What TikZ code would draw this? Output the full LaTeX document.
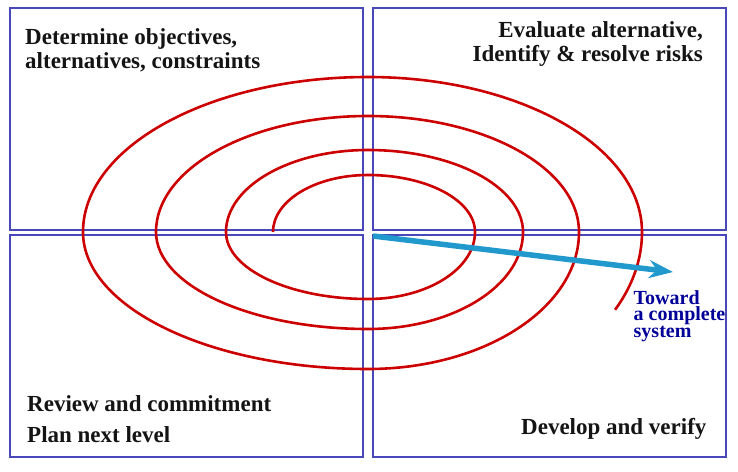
\documentclass[tikz,border=0pt]{standalone}
\usepackage{fontspec}
\setmainfont{Liberation Serif}
\usetikzlibrary{arrows.meta}
\definecolor{boxblue}{RGB}{72,72,184}
\definecolor{spiralred}{RGB}{204,0,0}
\definecolor{arrowblue}{RGB}{33,153,204}
\definecolor{textblue}{RGB}{0,0,153}
\definecolor{textblack}{RGB}{20,20,20}
\begin{document}
\begin{tikzpicture}[x=1pt,y=1pt,
  quad/.style={draw=boxblue,line width=1.2pt,rectangle,inner sep=0pt,outer sep=0pt,
    minimum width=353pt,minimum height=222pt,anchor=north west},
  quadtext/.style={font=\fontsize{23}{24}\bfseries\selectfont,text=textblack,inner sep=0pt},
  spiral/.style={draw=spiralred,line width=2.6pt},
  progress/.style={draw=arrowblue,line width=5.5pt,-{Stealth[length=24pt,width=18pt,inset=8pt]}},
  towardtext/.style={font=\fontsize{20}{16.5}\bfseries\selectfont,text=textblue,inner sep=0pt,align=left}
]
\useasboundingbox (0,0) rectangle (738,-471);
% quadrants
\node[quad] (tl) at (10,-8) {};
\node[quad] (tr) at (373,-8) {};
\node[quad] (bl) at (10,-235) {};
\node[quad] (br) at (373,-235) {};
% labels (base anchor = baseline of the last line)
\node[quadtext,anchor=base west,align=left] (obj) at (25,-68.3) {Determine objectives,\\alternatives, constraints};
\node[quadtext,anchor=base east,align=right] (eval) at (703,-61.5) {Evaluate alternative,\\Identify \& resolve risks};
\node[quadtext,anchor=base west,align=left,font=\fontsize{23}{30.5}\bfseries\selectfont] (rev) at (27,-442.3) {Review and commitment\\Plan next level};
\node[quadtext,anchor=base west] (dev) at (521,-434) {Develop and verify};
% spiral
\draw[spiral] (273,-232)
  arc[start angle=180,end angle=90,x radius=95,y radius=57]
  arc[start angle=90,end angle=0,x radius=107,y radius=57]
  arc[start angle=0,end angle=-90,x radius=107,y radius=67]
  arc[start angle=-90,end angle=-180,x radius=142,y radius=67]
  arc[start angle=180,end angle=90,x radius=142,y radius=82]
  arc[start angle=90,end angle=0,x radius=155,y radius=82]
  arc[start angle=0,end angle=-90,x radius=155,y radius=97]
  arc[start angle=-90,end angle=-180,x radius=212,y radius=97]
  arc[start angle=180,end angle=90,x radius=212,y radius=116]
  arc[start angle=90,end angle=0,x radius=211,y radius=116]
  arc[start angle=0,end angle=-90,x radius=211,y radius=137]
  arc[start angle=-90,end angle=-180,x radius=285,y radius=137]
  arc[start angle=180,end angle=90,x radius=285,y radius=155]
  arc[start angle=90,end angle=0,x radius=274,y radius=155]
  arc[start angle=0,end angle=-25.6,x radius=274,y radius=180];
% progress arrow
\coordinate (pstart) at (373,-236);
\coordinate (pend) at (673,-272);
\draw[progress] (pstart) -- (pend);
\node[towardtext,anchor=base west] (toward) at (633.5,-337) {Toward\\a complete\\system};
\end{tikzpicture}
\end{document}
